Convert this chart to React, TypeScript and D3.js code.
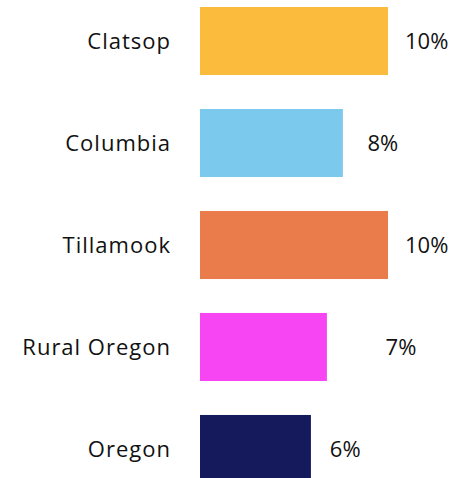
import { useEffect, useRef } from "react";
import * as d3 from "d3";

const WIDTH = 454;
const HEIGHT = 478;

const categories = ["Clatsop", "Columbia", "Tillamook", "Rural Oregon", "Oregon"];
const values = [10, 7.6, 10, 6.75, 5.9];
const valueLabels = ["10%", "8%", "10%", "7%", "6%"];
const colors = ["#FBBB3C", "#7BC9EC", "#EA7B4B", "#F845F4", "#141A5C"];

// the Rural Oregon label sits further out than the rest in the original
const LABEL_NUDGE: Record<string, number> = { "Rural Oregon": 37 };

export default function App() {
  const svgRef = useRef<SVGSVGElement>(null);

  useEffect(() => {
    const svgElement = svgRef.current;
    if (!svgElement) return;

    const svg = d3.select(svgElement);
    svg.selectAll("*").remove();

    const x = d3.scaleLinear().domain([0, 10]).range([200, 388]);
    const y = d3
      .scaleBand<string>()
      .domain(categories)
      .range([7, 483])
      .paddingInner(0.333)
      .paddingOuter(0);

    const rows = categories.map((name, i) => ({
      name,
      value: values[i],
      label: valueLabels[i],
      color: colors[i],
    }));

    const g = svg.append("g");

    g.selectAll("rect.bar")
      .data(rows)
      .join("rect")
      .attr("class", "bar")
      .attr("x", x(0))
      .attr("y", (d) => y(d.name) ?? 0)
      .attr("width", (d) => x(d.value) - x(0))
      .attr("height", y.bandwidth())
      .attr("fill", (d) => d.color);

    g.selectAll("text.cat")
      .data(rows)
      .join("text")
      .attr("class", "cat")
      .attr("x", 171)
      .attr("y", (d) => (y(d.name) ?? 0) + y.bandwidth() / 2)
      .attr("dy", "0.35em")
      .attr("text-anchor", "end")
      .attr("font-family", "'Open Sans', 'Noto Sans', sans-serif")
      .attr("font-size", 22)
      .attr("letter-spacing", 1)
      .attr("fill", "#111")
      .text((d) => d.name);

    g.selectAll("text.val")
      .data(rows)
      .join("text")
      .attr("class", "val")
      .attr("x", (d) => x(parseFloat(d.label)) + 17 + (LABEL_NUDGE[d.name] ?? 0))
      .attr("y", (d) => (y(d.name) ?? 0) + y.bandwidth() / 2)
      .attr("dy", "0.35em")
      .attr("font-family", "'Open Sans', 'Noto Sans', sans-serif")
      .attr("font-size", 22)
      .attr("fill", "#111")
      .text((d) => d.label);
  }, []);

  return (
    <svg
      ref={svgRef}
      width={WIDTH}
      height={HEIGHT}
      style={{ position: "absolute", left: 0, top: 0, background: "#fff" }}
    />
  );
}
